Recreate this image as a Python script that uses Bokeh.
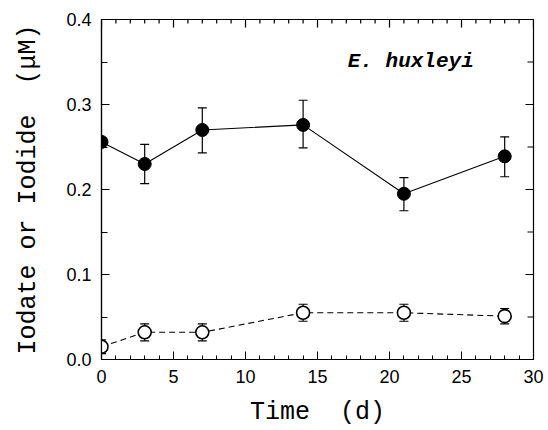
import math
from bokeh.plotting import figure
from bokeh.models import (ColumnDataSource, Whisker, TeeHead, Label,
                          Range1d, SingleIntervalTicker)
from bokeh.embed import file_html
from bokeh.resources import INLINE

# ---- data ----
days = [0, 3, 7, 14, 21, 28]
iodate = [0.256, 0.230, 0.270, 0.276, 0.195, 0.239]
iodate_lo = [0.256, 0.207, 0.243, 0.249, 0.175, 0.215]
iodate_hi = [0.256, 0.253, 0.296, 0.305, 0.214, 0.262]
iodide = [0.015, 0.032, 0.032, 0.055, 0.055, 0.051]
iodide_lo = [0.007, 0.022, 0.022, 0.045, 0.045, 0.042]
iodide_hi = [0.023, 0.042, 0.042, 0.065, 0.065, 0.060]

x_major = [0, 5, 10, 15, 20, 25, 30]
x_minor = [v for v in range(0, 31) if v % 5 != 0]
y_major = [0.0, 0.1, 0.2, 0.3, 0.4]
y_minor = [0.05, 0.15, 0.25, 0.35]
y_tick_labels = {0.0: "0.0", 0.1: "0.1", 0.2: "0.2", 0.3: "0.3", 0.4: "0.4"}

x_title = "Time\u00a0\u00a0(d)"
y_title = "Iodate or Iodide\u00a0\u00a0(μM)"
species = "E.\u00a0huxleyi"

src_a = ColumnDataSource(dict(x=days, y=iodate, lo=iodate_lo, hi=iodate_hi))
src_b = ColumnDataSource(dict(x=days, y=iodide, lo=iodide_lo, hi=iodide_hi))

XMIN, XMAX, YMIN, YMAX = 0, 30, 0.0, 0.4

p = figure(width=548, height=430, output_backend="svg", toolbar_location=None,
           x_range=Range1d(XMIN, XMAX), y_range=Range1d(YMIN, YMAX),
           min_border_left=101, min_border_right=15, min_border_top=19,
           min_border_bottom=71)
p.background_fill_color = "white"
p.border_fill_color = "white"
p.outline_line_color = "black"
p.outline_line_width = 1.2
p.xgrid.visible = False
p.ygrid.visible = False

TICK_FONT = "Liberation Sans"
TITLE_FONT = "Liberation Mono"

def style_axis(ax, minor_in):
    ax.axis_line_color = "black"
    ax.axis_line_width = 1.2
    ax.major_tick_in = 8
    ax.major_tick_out = 0
    ax.minor_tick_in = minor_in
    ax.minor_tick_out = 0
    ax.major_tick_line_color = "black"
    ax.minor_tick_line_color = "black"
    ax.major_label_text_font = TICK_FONT
    ax.major_label_text_font_size = "18px"
    ax.major_label_text_color = "black"
    ax.axis_label_text_font = TITLE_FONT
    ax.axis_label_text_font_size = "25px"
    ax.axis_label_text_font_style = "normal"
    ax.axis_label_text_color = "black"

xa = p.xaxis[0]
xa.ticker = SingleIntervalTicker(interval=5, num_minor_ticks=5)
style_axis(xa, 4)
xa.major_label_standoff = 10
xa.axis_label = x_title
xa.axis_label_standoff = 12

ya = p.yaxis[0]
ya.ticker = SingleIntervalTicker(interval=0.1, num_minor_ticks=2)
style_axis(ya, 6)
ya.major_label_overrides = y_tick_labels
ya.major_label_standoff = 10
ya.axis_label = y_title
ya.axis_label_standoff = 20

# mirrored inward ticks on the top and right edges
p.ray(x=x_major, y=[YMAX] * len(x_major), length=8, length_units="screen",
      angle=-math.pi / 2, line_color="black", line_width=1.2)
p.ray(x=x_minor, y=[YMAX] * len(x_minor), length=4, length_units="screen",
      angle=-math.pi / 2, line_color="black", line_width=1.2)
p.ray(x=[XMAX] * len(y_major), y=y_major, length=8, length_units="screen",
      angle=math.pi, line_color="black", line_width=1.2)
p.ray(x=[XMAX] * len(y_minor), y=y_minor, length=6, length_units="screen",
      angle=math.pi, line_color="black", line_width=1.2)

# error bars
for src in (src_a, src_b):
    w = Whisker(source=src, base="x", lower="lo", upper="hi", dimension="height",
                line_color="black", line_width=1.2,
                upper_head=TeeHead(size=9, line_color="black", line_width=1.2),
                lower_head=TeeHead(size=9, line_color="black", line_width=1.2))
    p.add_layout(w)

# lines
p.line("x", "y", source=src_a, line_color="black", line_width=1.1)
p.line("x", "y", source=src_b, line_color="black", line_width=1.1, line_dash="6 4")

# markers
p.scatter("x", "y", source=src_a, size=13, marker="circle",
          fill_color="black", line_color="black", line_width=1)
p.scatter("x", "y", source=src_b, size=13, marker="circle",
          fill_color="white", line_color="black", line_width=1.6)

p.add_layout(Label(x=17.1, y=0.351, text=species,
                   text_font=TITLE_FONT, text_font_size="21px",
                   text_font_style="bold italic", text_color="black",
                   text_baseline="alphabetic", text_align="left"))

open("out.html", "w").write(file_html(p, INLINE))
